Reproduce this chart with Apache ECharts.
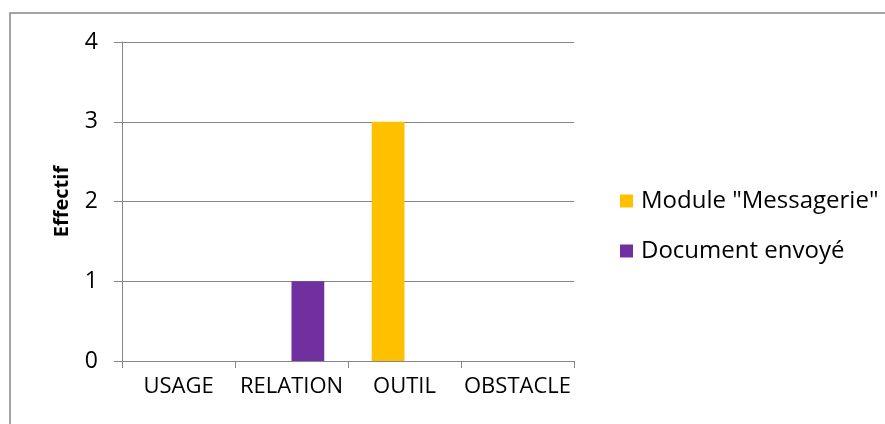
<!DOCTYPE html>
<html>
<head>
<meta charset="utf-8">
<script src="https://cdn.jsdelivr.net/npm/echarts@6/dist/echarts.min.js"></script>
<style>
  html, body { margin: 0; padding: 0; background: #fff; }
  #chart { width: 885px; height: 424px; }
</style>
</head>
<body>
<div id="chart"></div>
<script>
// categories on the x axis
var categories = ['USAGE', 'RELATION', 'OUTIL', 'OBSTACLE'];
// series values
var messagerie = [0, 0, 3, 0];
var documentEnvoye = [0, 1, 0, 0];
var seriesNames = ['Module "Messagerie"', 'Document envoyé'];
var seriesColors = ['#FFC000', '#7030A0'];
// y axis ticks
var yMin = 0, yMax = 4, yStep = 1;

var myChart = echarts.init(document.getElementById('chart'), null, { renderer: 'canvas' });
var font = '"Open Sans", sans-serif';
var gray = '#868686';

var option = {
  animation: false,
  textStyle: { fontFamily: font },
  // outer frame of the chart (left and top edges visible only)
  graphic: [{
    type: 'rect',
    shape: { x: 10, y: 13, width: 900, height: 500 },
    style: { fill: 'none', stroke: gray, lineWidth: 1.5 },
    silent: true
  }],
  grid: { left: 122, right: 311, top: 42, bottom: 63 },
  legend: {
    orient: 'vertical',
    left: 615,
    top: 184,
    itemWidth: 13,
    itemHeight: 13,
    itemGap: 26,
    icon: 'rect',
    textStyle: { fontFamily: font, fontSize: 24, color: '#000', lineHeight: 24, padding: [0, 0, 0, 3] },
    data: seriesNames
  },
  xAxis: {
    type: 'category',
    data: categories,
    axisLine: { lineStyle: { color: gray, width: 1 } },
    axisTick: { show: true, length: 7, lineStyle: { color: gray } },
    axisLabel: { color: '#000', fontSize: 22, fontFamily: font, margin: 15, interval: 0 }
  },
  yAxis: {
    type: 'value',
    min: yMin,
    max: yMax,
    interval: yStep,
    name: 'Effectif',
    nameLocation: 'middle',
    nameGap: 50,
    nameRotate: 90,
    nameTextStyle: { color: '#000', fontSize: 20, fontWeight: 'bold', fontFamily: font },
    axisLine: { show: true, lineStyle: { color: gray, width: 1 } },
    axisTick: { show: true, length: 8, lineStyle: { color: gray } },
    axisLabel: { color: '#000', fontSize: 23, fontFamily: font, margin: 24 },
    splitLine: { lineStyle: { color: gray, width: 1 } }
  },
  series: [
    {
      name: seriesNames[0],
      type: 'bar',
      data: messagerie,
      itemStyle: { color: seriesColors[0] },
      barGap: '0%',
      barCategoryGap: '42%'
    },
    {
      name: seriesNames[1],
      type: 'bar',
      data: documentEnvoye,
      itemStyle: { color: seriesColors[1] },
      barGap: '0%',
      barCategoryGap: '42%'
    }
  ]
};
myChart.setOption(option);
</script>
</body>
</html>
